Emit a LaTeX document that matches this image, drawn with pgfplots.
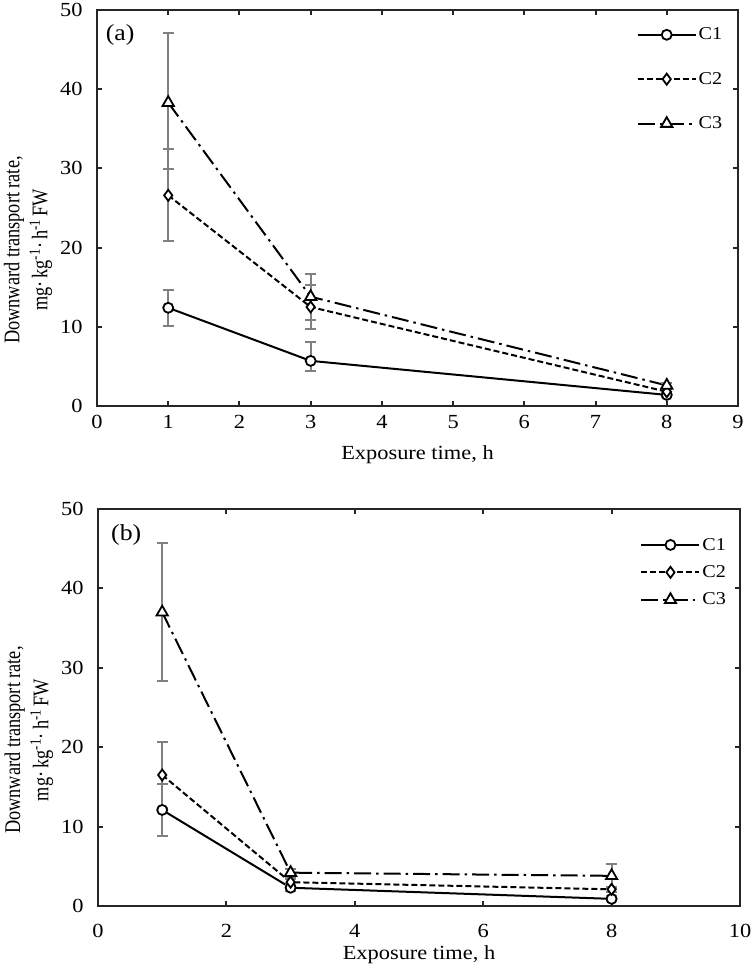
\documentclass[border=0pt]{standalone}
\usepackage{fontspec}
\setmainfont{Liberation Serif}[FakeStretch=1.12]
\newfontfamily\ylfont{Liberation Serif}
\usepackage{graphicx}
\usepackage{pgfplots}
\pgfplotsset{compat=1.18}

\pgfplotstableread{
x y ep em
1 12.4 2.3 2.3
3 5.7 2.4 1.3
8 1.4 0.3 0.3
}\aA
\pgfplotstableread{
x y ep em
1 26.6 5.8 5.8
3 12.5 2.8 2.8
8 1.8 0.3 0.3
}\aB
\pgfplotstableread{
x y ep em
1 38.3 8.8 8.4
3 13.8 2.9 2.9
8 2.6 0.3 0.3
}\aC
\pgfplotstableread{
x y ep em
1 12.1 3.3 3.3
3 2.3 0.4 0.4
8 0.9 0.3 0.3
}\bA
\pgfplotstableread{
x y ep em
1 16.5 4.2 4.2
3 3.0 0.4 0.4
8 2.1 0.3 0.3
}\bB
\pgfplotstableread{
x y ep em
1 37.0 8.7 8.7
3 4.2 0.5 0.5
8 3.8 1.5 1.5
}\bC

\pgfplotsset{
  myaxis/.style={
    scale only axis,
    anchor=south west,
    ymin=0, ymax=50, ytick={0,10,...,50},
    tick align=inside,
    major tick length=5pt,
    axis line style={line width=2.5pt, black!85},
    every tick/.style={line width=2pt, black!85},
    tick label style={font=\fontsize{20}{24}\selectfont},
    /pgf/number format/assume math mode=true,
    xticklabel style={yshift=-6pt},
    yticklabel style={xshift=-11pt},
    legend cell align=left,
    legend style={draw=none, fill=none, font=\fontsize{18}{21}\selectfont, anchor=north west},
    legend image code/.code={\draw[mark repeat=2,mark phase=2] plot coordinates {(0pt,0pt) (29pt,0pt) (58pt,0pt)};},
    clip=false,
  },
  sA/.style={black, line width=2pt, solid, mark=*, mark size=5pt, mark options={fill=white, solid, line width=1.8pt}},
  sB/.style={black, line width=2pt, dash pattern=on 6pt off 3pt, mark=diamond*, mark size=5.5pt, mark options={fill=white, solid, line width=1.8pt}},
  sC/.style={black, line width=2pt, dash pattern=on 17pt off 5pt on 2.5pt off 5pt, mark=triangle*, mark size=6.5pt, mark options={fill=white, solid, line width=1.8pt}},
  eb/.style={error bars/.cd, y dir=both, y explicit,
    error bar style={solid, line width=2pt, gray},
    error mark options={rotate=90, mark size=5.5pt, solid, line width=2pt, gray}},
}

\begin{document}
\begin{tikzpicture}[x=1pt,y=1pt]
\useasboundingbox (0,0) rectangle (750,-975);
% panel (a)
\begin{axis}[myaxis, at={(97pt,-406pt)}, width=641pt, height=396pt,
  xmin=0, xmax=9, xtick={0,...,9},
  legend style={at={(rel axis cs:0.837,0.965)}, row sep=27pt}]
\addplot[sA, eb] table[x=x, y=y, y error plus=ep, y error minus=em] {\aA};
\addlegendentry{C1}
\addplot[sB, eb] table[x=x, y=y, y error plus=ep, y error minus=em] {\aB};
\addlegendentry{C2}
\addplot[sC, eb] table[x=x, y=y, y error plus=ep, y error minus=em] {\aC};
\addlegendentry{C3}
\node[font=\fontsize{23}{27}\selectfont] at (axis description cs:0.036,0.938) {(a)};
\node at (axis description cs:0.5,-0.124) {\fontsize{20}{24}\selectfont Exposure time, h};
\node[rotate=90, align=center] at (axis description cs:-0.108,0.394) {\scalebox{1}[1.22]{\ylfont\fontsize{18.3}{23}\selectfont\begin{tabular}{c}Downward transport rate,\\ mg·\,kg\textsuperscript{-1}·\,h\textsuperscript{-1}\,FW\end{tabular}}};
\end{axis}
% panel (b)
\begin{axis}[myaxis, at={(98pt,-906pt)}, width=642pt, height=397pt,
  xmin=0, xmax=10, xtick={0,2,...,10},
  xticklabel style={yshift=-9pt},
  legend style={at={(rel axis cs:0.840,0.937)}, row sep=10pt}]
\addplot[sA, eb] table[x=x, y=y, y error plus=ep, y error minus=em] {\bA};
\addlegendentry{C1}
\addplot[sB, eb] table[x=x, y=y, y error plus=ep, y error minus=em] {\bB};
\addlegendentry{C2}
\addplot[sC, eb] table[x=x, y=y, y error plus=ep, y error minus=em] {\bC};
\addlegendentry{C3}
\node[font=\fontsize{23}{27}\selectfont] at (axis description cs:0.044,0.935) {(b)};
\node at (axis description cs:0.5,-0.1234) {\fontsize{20}{24}\selectfont Exposure time, h};
\node[rotate=90, align=center] at (axis description cs:-0.108,0.418) {\scalebox{1}[1.22]{\ylfont\fontsize{18.3}{23}\selectfont\begin{tabular}{c}Downward transport rate,\\ mg·\,kg\textsuperscript{-1}·\,h\textsuperscript{-1}\,FW\end{tabular}}};
\end{axis}
\end{tikzpicture}
\end{document}
